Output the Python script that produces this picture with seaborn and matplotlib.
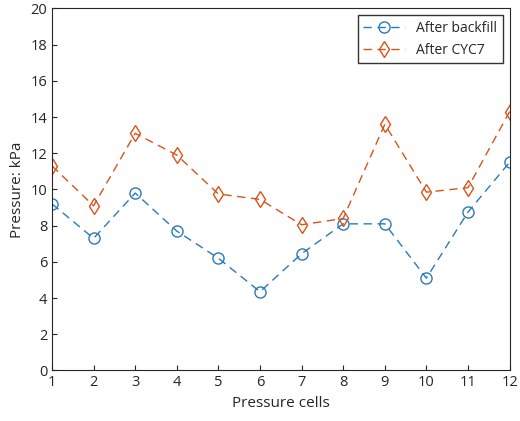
import matplotlib
matplotlib.use("Agg")
import matplotlib.pyplot as plt
import pandas as pd
import seaborn as sns

cells = list(range(1, 13))
after_backfill = [9.2, 7.3, 9.8, 7.7, 6.2, 4.35, 6.45, 8.1, 8.1, 5.1, 8.75, 11.5]
after_cyc7 = [11.3, 9.1, 13.1, 11.9, 9.75, 9.45, 8.05, 8.4, 13.6, 9.85, 10.1, 14.3]

sns.set_style("ticks")
plt.rcParams['font.family'] = ['Open Sans', 'DejaVu Sans']

fig = plt.figure(figsize=(5.2, 4.21), dpi=100)
ax = fig.add_axes([0.1, 0.12, 0.88, 0.86])
colors = ["#2a7ab9", "#d95319"]
for vals, lab, mk, c in [(after_backfill, "After backfill", "o", colors[0]),
                         (after_cyc7, "After CYC7", "d", colors[1])]:
    sns.lineplot(x=cells, y=vals, label=lab, color=c, marker=mk,
                 markersize=8, linewidth=1, ax=ax)
for line in ax.get_lines():
    line.set_markerfacecolor("none")
    line.set_markeredgecolor(line.get_color())
    line.set_markeredgewidth(1)
    line.set_dashes((6, 4))
ax.set_xlim(1, 12)
ax.set_ylim(0, 20)
ax.set_xticks(cells)
ax.set_yticks(range(0, 21, 2))
ax.set_xlabel("Pressure cells", fontsize=11)
ax.set_ylabel("Pressure: kPa", fontsize=11)
ax.tick_params(labelsize=10.5, direction="in")
leg = ax.legend(loc="upper right", fontsize=10, frameon=True, fancybox=False,
                edgecolor="black", handlelength=3)
for h in leg.legend_handles:
    h.set_markerfacecolor("none")
    h.set_markeredgecolor(h.get_color())
    h.set_dashes((6, 4))
fig.savefig("out.png", dpi=100)
